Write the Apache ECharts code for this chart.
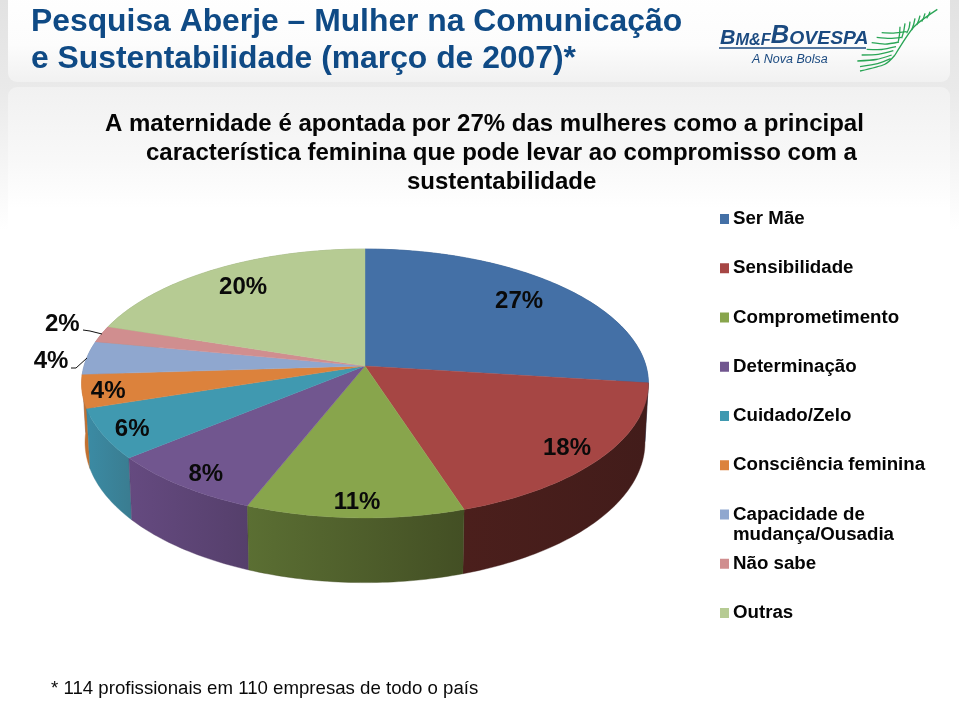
<!DOCTYPE html>
<html><head><meta charset="utf-8">
<style>html,body{margin:0;padding:0;background:#fff}#c{width:959px;height:701px}</style>
<script src="https://cdn.jsdelivr.net/npm/echarts@6/dist/echarts.min.js"></script>
</head><body><div id="c"></div>
<script>
const categories = ['Ser Mãe','Sensibilidade','Comprometimento','Determinação','Cuidado/Zelo','Consciência feminina','Capacidade de','Não sabe','Outras'];
const values = [27,18,11,8,6,4,4,2,20];
const topColors = ['#4470a6','#a64644','#88a54c','#71568f','#4099b0','#dc823c','#8fa7cf','#d08e8f','#b6cb93'];
const wallLeft = ['#2f5580','#4b1f1c','#5b6f33','#654a80','#3b8ba4','#c2702f','#6f85a8','#a87070','#8fa474'];
const wallRight = ['#2f5580','#421c1a','#434f24','#553f6b','#3a7c90','#c2702f','#6f85a8','#a87070','#8fa474'];
const labelRadii = [0.78,0.87,0.9,0.89,0.9,0.91,1.13,1.15,0.8];
const labelNudgeX = [0,-1,1,3,2,0,0,-1,0];
const labelNudgeY = [-1,3,2,3,3,2,5,-5,0];

// Projection of the tilted disc (perspective)
const CX = 365, TOP = {A:281, B:132.2, cy:366}, LOW = {A:277.6, B:138, cy:424}, K = 0.13;
function proj(face, rho, deg){
  const t = deg*Math.PI/180, u = rho*Math.sin(t), v = -rho*Math.cos(t), d = 1-K*v;
  return [CX + face.A*u/d, face.cy + face.B*v/d];
}
function arc(face, a, b){
  const pts=[], n=Math.max(2,Math.ceil(Math.abs(b-a)));
  for(let i=0;i<=n;i++) pts.push(proj(face,1,a+(b-a)*i/n));
  return pts;
}
const total = values.reduce((s,x)=>s+x,0);
function renderSlice(params, api){
  const i = params.seriesIndex, val = api.value(0);
  let before = 0; for(let j=0;j<i;j++) before += values[j];
  const a = before/total*360, b = (before+val)/total*360, mid=(a+b)/2;
  const topArc = arc(TOP,a,b), lowArc = arc(LOW,a,b).reverse();
  const depth = Math.round(25*(1-Math.cos(mid*Math.PI/180)));
  const children = [
    {type:'polygon', z2:depth, shape:{points:topArc.concat(lowArc)},
     style:{fill:new echarts.graphic.LinearGradient(0,0,1,0,[{offset:0,color:wallLeft[i]},{offset:1,color:wallRight[i]}]),stroke:wallRight[i],lineWidth:0.4}},
    {type:'polygon', z2:60, shape:{points:[[CX,TOP.cy]].concat(topArc)},
     style:{fill:topColors[i],stroke:topColors[i],lineWidth:0.4}}
  ];
  const p = proj(TOP,labelRadii[i],mid);
  children.push({type:'text', z2:70, style:{text:Math.round(val)+'%',x:p[0]+labelNudgeX[i],y:p[1]+labelNudgeY[i],align:'center',verticalAlign:'middle',
    font:'bold 24px "Liberation Sans"',fill:'#0a0a0a'}});
  return {type:'group',children};
}
const series = categories.map((name,i)=>({
  type:'custom', name, coordinateSystem:'none', data:[[values[i]]], renderItem:renderSlice,
  itemStyle:{color:topColors[i]}, silent:true, animation:false
}));

function hText(text,x,y,font,fill,sx,extra){
  return Object.assign({type:'text',x,y,scaleX:sx||1,z:10,silent:true,
    style:{text,font,fill,align:'left',verticalAlign:'middle'}},extra||{});
}
const fz = ([x,y]) => [850+x/3, y/3];
const fronds = [
 [[262,28],[190,75],[135,165]],[[135,165],[110,195],[30,213]],
 [[95,98],[130,100],[170,95]],[[80,112],[120,116],[155,112]],[[65,128],[105,134],[147,126]],
 [[50,148],[95,150],[138,140]],[[35,165],[85,165],[130,152]],[[22,183],[80,180],[125,165]],[[30,200],[85,192],[122,176]],
 [[150,80],[150,102],[145,125]],[[165,70],[163,92],[155,115]],[[180,65],[178,84],[170,100]],
 [[195,55],[192,74],[185,90]],[[210,47],[207,62],[200,75]],[[225,40],[222,54],[215,65]],[[240,35],[237,46],[230,55]]
].map(p=>p.map(fz));
const g = [
 {type:'rect',z:0,silent:true,shape:{x:0,y:0,width:959,height:230},
   style:{fill:new echarts.graphic.LinearGradient(0,0,0,1,[{offset:0,color:'#e2e2e2'},{offset:.4,color:'#eaeaea'},{offset:1,color:'#ffffff'}])}},
 {type:'rect',z:1,silent:true,shape:{x:8,y:-10,width:942,height:92,r:9},
   style:{fill:new echarts.graphic.LinearGradient(0,0,0,1,[{offset:0,color:'#ffffff'},{offset:.6,color:'#fcfcfc'},{offset:1,color:'#f1f1f1'}])}},
 {type:'rect',z:1,silent:true,shape:{x:8,y:87,width:942,height:143,r:[9,9,0,0]},
   style:{fill:new echarts.graphic.LinearGradient(0,0,0,1,[{offset:0,color:'#f1f1f1'},{offset:.5,color:'#f8f8f8'},{offset:.85,color:'#ffffff'},{offset:1,color:'#ffffff'}])}},
 hText('Pesquisa Aberje – Mulher na Comunicação',31,22,'bold 31px "Liberation Sans"','#0f4a85',1.027),
 hText('e Sustentabilidade (março de 2007)*',31,59,'bold 31px "Liberation Sans"','#0f4a85',1.027),
 hText('A maternidade é apontada por 27% das mulheres como a principal',105,124,'bold 24px "Liberation Sans"','#050505',1),
 hText('característica feminina que pode levar ao compromisso com a',146,153,'bold 24px "Liberation Sans"','#050505',1),
 hText('sustentabilidade',407,182,'bold 24px "Liberation Sans"','#050505',1),
 hText('mudança/Ousadia',733,535,'bold 18.7px "Liberation Sans"','#050505',1),
 hText('* 114 profissionais em 110 empresas de todo o país',51,689,'18.65px "Liberation Sans"','#0a0a0a',1),
 {type:'text',x:720,y:36,z:10,silent:true,scaleX:1.02,style:{
   text:'{a|B}{c|M&F}{d|B}{b|OVESPA}',align:'left',verticalAlign:'middle',
   rich:{a:{font:'italic bold 21px "Liberation Sans"',fill:'#1b4a80',verticalAlign:'bottom'},c:{font:'italic bold 16px "Liberation Sans"',fill:'#1b4a80',verticalAlign:'bottom'},
         d:{font:'italic bold 25px "Liberation Sans"',fill:'#1b4a80',verticalAlign:'bottom'},b:{font:'italic bold 19px "Liberation Sans"',fill:'#1b4a80',verticalAlign:'bottom'}}}},
 {type:'line',z:10,silent:true,shape:{x1:719,y1:48,x2:866,y2:48},style:{stroke:'#1b4a80',lineWidth:1.5}},
 hText('A Nova Bolsa',752,60,'italic 12.5px "Liberation Sans"','#1b4a80',1),
 {type:'polyline',z:10,silent:true,shape:{points:[[83,330],[90,331],[102,334]]},style:{stroke:'#111',lineWidth:1,fill:null}},
 {type:'polyline',z:10,silent:true,shape:{points:[[71,368],[76,368],[87,358]]},style:{stroke:'#111',lineWidth:1,fill:null}}
].concat(fronds.map(p=>({type:'bezierCurve',z:10,silent:true,
   shape:{x1:p[0][0],y1:p[0][1],cpx1:p[1][0],cpy1:p[1][1],cpx2:p[1][0],cpy2:p[1][1],x2:p[2][0],y2:p[2][1]},
   style:{stroke:'#2aa556',lineWidth:1.3,fill:null}})));

const chart = echarts.init(document.getElementById('c'),null,{renderer:'canvas'});
chart.setOption({
  animation:false, backgroundColor:'transparent',
  legend:{orient:'vertical',left:720,top:209,padding:0,itemWidth:9,itemHeight:10,itemGap:29.25,icon:'rect',selectedMode:false,
    data:categories,textStyle:{fontFamily:'Liberation Sans',fontWeight:'bold',fontSize:18.7,color:'#050505',lineHeight:20,height:20,padding:[0,0,0,-1]}},
  graphic:{elements:g},
  series
});
</script></body></html>
